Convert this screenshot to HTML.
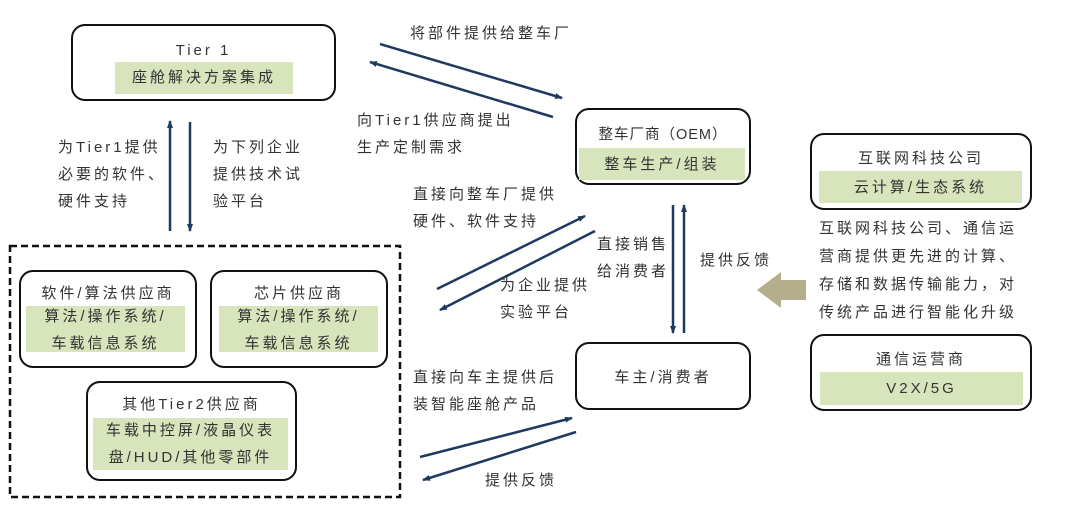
<!DOCTYPE html>
<html><head><meta charset="utf-8"><style>
body{margin:0;width:1080px;height:510px;background:#fff;position:relative;overflow:hidden;font-family:"Liberation Sans","Noto Sans CJK SC",sans-serif;color:#333;}
.b{position:absolute;border:2.5px solid #111;border-radius:14px;box-sizing:border-box;}
.g{position:absolute;background:#d8e4bc;}
.t{position:absolute;font-size:15px;letter-spacing:3px;white-space:nowrap;line-height:27px;}
.c{text-align:center;}
</style></head><body>
<svg width="1080" height="510" style="position:absolute;left:0;top:0">
<defs><marker id="a" markerWidth="8" markerHeight="8" refX="7" refY="4" orient="auto" markerUnits="userSpaceOnUse"><path d="M0,1 L8,4 L0,7 Z" fill="#1f3a5f"/></marker></defs>
<g stroke="#1f3a5f" stroke-width="2.5" marker-end="url(#a)">
<line x1="170" y1="231" x2="170" y2="121"/>
<line x1="190" y1="122" x2="190" y2="231"/>
<line x1="380" y1="44" x2="562" y2="98"/>
<line x1="553" y1="117" x2="370" y2="62"/>
<line x1="437" y1="289" x2="585" y2="216"/>
<line x1="595" y1="231" x2="440" y2="310"/>
<line x1="420" y1="457" x2="572" y2="418"/>
<line x1="576" y1="432" x2="423" y2="480"/>
<line x1="673" y1="205" x2="673" y2="333"/>
<line x1="684" y1="333" x2="684" y2="205"/>
</g>
<rect x="10" y="246" width="390" height="251" fill="none" stroke="#111" stroke-width="2.5" stroke-dasharray="7,4"/>
<polygon points="757,290 781,272 781,280 806,280 806,300 781,300 781,308" fill="#b5ae8c"/>
</svg>
<div class="b" style="left:71px;top:24px;width:265px;height:77px"></div>
<div class="g" style="left:115px;top:62px;width:178px;height:32px"></div>
<div class="t c" style="left:71px;top:37px;width:265px">Tier 1</div>
<div class="t c" style="left:115px;top:64px;width:178px">座舱解决方案集成</div>
<div class="t" style="left:58px;top:134px">为Tier1提供<br>必要的软件、<br>硬件支持</div>
<div class="t" style="left:213px;top:134px">为下列企业<br>提供技术试<br>验平台</div>

<div class="b" style="left:19px;top:270px;width:178px;height:98px"></div>
<div class="g" style="left:26px;top:306px;width:159px;height:46px"></div>
<div class="t c" style="left:19px;top:280px;width:178px">软件/算法供应商</div>
<div class="t c" style="left:26px;top:303px;width:159px">算法/操作系统/<br>车载信息系统</div>
<div class="b" style="left:210px;top:270px;width:178px;height:98px"></div>
<div class="g" style="left:219px;top:306px;width:159px;height:46px"></div>
<div class="t c" style="left:210px;top:280px;width:178px">芯片供应商</div>
<div class="t c" style="left:219px;top:303px;width:159px">算法/操作系统/<br>车载信息系统</div>
<div class="b" style="left:86px;top:381px;width:211px;height:100px"></div>
<div class="g" style="left:93px;top:418px;width:195px;height:52px"></div>
<div class="t c" style="left:86px;top:391px;width:211px">其他Tier2供应商</div>
<div class="t c" style="left:93px;top:417px;width:195px">车载中控屏/液晶仪表<br>盘/HUD/其他零部件</div>

<div class="t" style="left:410px;top:20px">将部件提供给整车厂</div>
<div class="t" style="left:357px;top:107px">向Tier1供应商提出<br>生产定制需求</div>
<div class="t" style="left:413px;top:181px">直接向整车厂提供<br>硬件、软件支持</div>
<div class="t" style="left:500px;top:272px">为企业提供<br>实验平台</div>
<div class="t" style="left:413px;top:364px">直接向车主提供后<br>装智能座舱产品</div>
<div class="t" style="left:485px;top:467px">提供反馈</div>
<div class="t" style="left:597px;top:231px">直接销售<br>给消费者</div>
<div class="t" style="left:700px;top:247px">提供反馈</div>

<div class="b" style="left:575px;top:108px;width:176px;height:77px"></div>
<div class="g" style="left:579px;top:148px;width:166px;height:32px"></div>
<div class="t c" style="left:575px;top:122px;width:176px;letter-spacing:1px;font-size:14.5px">整车厂商（OEM）</div>
<div class="t c" style="left:579px;top:151px;width:166px">整车生产/组装</div>
<div class="b" style="left:575px;top:342px;width:176px;height:68px"></div>
<div class="t c" style="left:575px;top:364px;width:176px">车主/消费者</div>

<div class="b" style="left:810px;top:133px;width:222px;height:77px"></div>
<div class="g" style="left:819px;top:171px;width:203px;height:32px"></div>
<div class="t c" style="left:810px;top:145px;width:222px">互联网科技公司</div>
<div class="t c" style="left:819px;top:174px;width:203px">云计算/生态系统</div>
<div class="t" style="left:819px;top:215px;line-height:28px">互联网科技公司、通信运<br>营商提供更先进的计算、<br>存储和数据传输能力，对<br>传统产品进行智能化升级</div>
<div class="b" style="left:810px;top:334px;width:222px;height:77px"></div>
<div class="g" style="left:820px;top:372px;width:203px;height:33px"></div>
<div class="t c" style="left:810px;top:346px;width:222px">通信运营商</div>
<div class="t c" style="left:820px;top:375px;width:203px">V2X/5G</div>
</body></html>
